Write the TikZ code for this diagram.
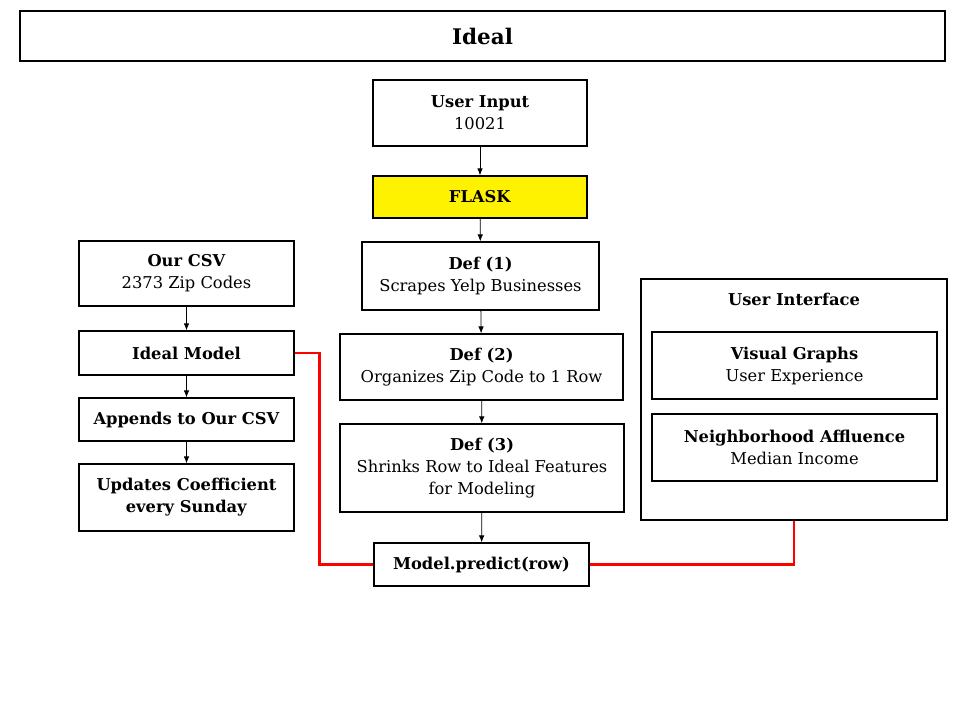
\documentclass[tikz,border=0pt]{standalone}
\usepackage{fontspec}
\setmainfont{DejaVu Serif}
\usepackage{tikz}
\usetikzlibrary{arrows.meta}
\newcommand{\bodyfont}{\fontsize{16.3}{22}\selectfont}
\newcommand{\titlefont}{\fontsize{21.5}{26}\selectfont\bfseries}
\tikzset{
  box/.style   = {rectangle, draw=black, fill=white, line width=1.2pt,
                  align=center, inner sep=0pt, font=\bodyfont},
  flaskbox/.style = {box, fill=yellow},
  arr/.style   = {-{Latex[length=7pt,width=5.5pt]}, draw=black, line width=0.8pt},
  link/.style  = {draw=red, line width=2.3pt}
}
\begin{document}
\begin{tikzpicture}[x=1pt,y=-1pt]
  \useasboundingbox (0,0) rectangle (960,720);
  % heading
  \node[box, minimum width=925pt, minimum height=50pt, font=\titlefont] (title) at (482.5,36) {Ideal};
  % middle column
  \node[box, minimum width=214pt, minimum height=66pt] (input) at (480,113) {\textbf{User Input}\\10021};
  \node[flaskbox, minimum width=214pt, minimum height=42pt] (flask) at (480,197) {\textbf{FLASK}};
  \node[box, minimum width=237pt, minimum height=68pt] (def1) at (480.5,276) {\textbf{Def (1)}\\Scrapes Yelp Businesses};
  \node[box, minimum width=283pt, minimum height=66pt] (def2) at (481.5,367) {\textbf{Def (2)}\\Organizes Zip Code to 1 Row};
  \node[box, minimum width=284pt, minimum height=88pt] (def3) at (482,468) {\textbf{Def (3)}\\Shrinks Row to Ideal Features\\for Modeling};
  \node[box, minimum width=215pt, minimum height=43pt] (predict) at (481.5,564.5) {\textbf{Model.predict(row)}};
  % left column
  \node[box, minimum width=215pt, minimum height=65pt] (csv) at (186.5,273.5) {\textbf{Our CSV}\\2373 Zip Codes};
  \node[box, minimum width=215pt, minimum height=44pt] (model) at (186.5,353) {\textbf{Ideal Model}};
  \node[box, minimum width=215pt, minimum height=43pt] (append) at (186.5,419.5) {\textbf{Appends to Our CSV}};
  \node[box, minimum width=215pt, minimum height=67pt] (update) at (186.5,497.5) {\textbf{Updates Coefficient}\\\textbf{every Sunday}};
  % right panel
  \node[box, minimum width=306pt, minimum height=241pt] (ui) at (794,399.5) {};
  \node[font=\bodyfont\bfseries] (uititle) at (794,299) {User Interface};
  \node[box, minimum width=285pt, minimum height=67pt] (graphs) at (794.5,365.5) {\textbf{Visual Graphs}\\User Experience};
  \node[box, minimum width=285pt, minimum height=67pt] (affluence) at (794.5,447.5) {\textbf{Neighborhood Affluence}\\Median Income};
  % arrows
  \foreach \a/\b in {input/flask,flask/def1,def1/def2,def2/def3,def3/predict,csv/model,model/append,append/update}
    \draw[arr] (\a) -- (\b);
  % red links
  \draw[link] (model.east) -- ++(25,0) |- (predict.west);
  \draw[link] (predict.east) -| (ui.south);
\end{tikzpicture}
\end{document}
